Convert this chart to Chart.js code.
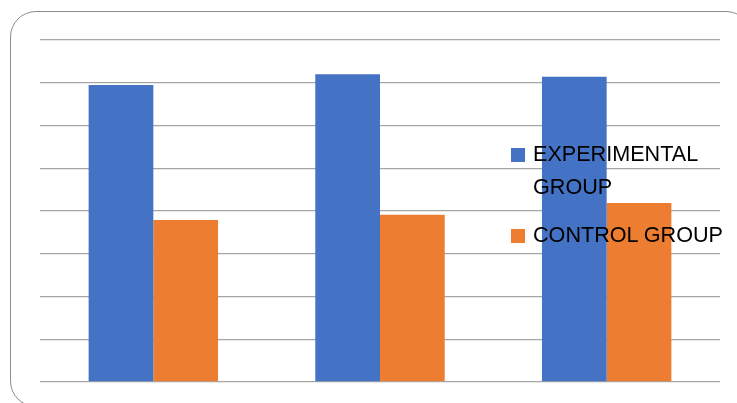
<!DOCTYPE html>
<html>
<head>
<meta charset="utf-8">
<script src="https://cdn.jsdelivr.net/npm/chart.js@4/dist/chart.umd.min.js"></script>
<style>
  html, body { margin: 0; padding: 0; background: #fff; }
  #wrap { position: relative; width: 737px; height: 403px; overflow: hidden; }
  #frame { position: absolute; left: 10px; top: 11px; width: 742px; height: 396px;
           border: 1.3px solid #8c8c8c; border-radius: 26px; box-sizing: border-box; }
  canvas { position: absolute; left: 0; top: 0; }
  .leg { position: absolute; left: 511px; width: 220px; font-family: "Liberation Sans", Arial, sans-serif;
         font-size: 21.6px; line-height: 32.5px; color: #000; }
  .leg .sw { position: absolute; left: 0; width: 14px; height: 14px; }
  .leg .tx { position: absolute; left: 22px; width: 205px; }
</style>
</head>
<body>
<div id="wrap">
  <div id="frame"></div>
  <canvas id="c" width="737" height="403"></canvas>
</div>
<script>
const categories = ['1', '2', '3'];
const seriesNames = ['EXPERIMENTAL GROUP', 'CONTROL GROUP'];
const experimental = [69.5, 72.0, 71.4];
const control = [37.9, 39.1, 41.9];
const colors = ['#4472C4', '#ED7D31'];
const yMin = 0, yMax = 80, yStep = 10;

const ctx = document.getElementById('c').getContext('2d');
new Chart(ctx, {
  type: 'bar',
  data: {
    labels: categories,
    datasets: [
      { label: seriesNames[0], data: experimental, backgroundColor: colors[0] },
      { label: seriesNames[1], data: control, backgroundColor: colors[1] }
    ]
  },
  options: {
    responsive: false,
    animation: false,
    layout: { padding: { left: 40, right: 17, top: 40, bottom: 21 } },
    datasets: { bar: { categoryPercentage: 0.571, barPercentage: 1.0 } },
    plugins: { legend: { display: false }, tooltip: { enabled: false } },
    scales: {
      x: { display: false },
      y: {
        min: yMin, max: yMax,
        ticks: { display: false, stepSize: yStep },
        grid: { color: '#a6a6a6', lineWidth: 1.3, drawTicks: false },
        border: { display: false }
      }
    }
  }
});

// HTML legend built from the series arrays
const legendTops = [138, 219];
const swatchTops = [10, 10];
seriesNames.forEach((name, i) => {
  const d = document.createElement('div');
  d.className = 'leg';
  d.style.top = legendTops[i] + 'px';
  const sw = document.createElement('div');
  sw.className = 'sw';
  sw.style.background = colors[i];
  sw.style.top = swatchTops[i] + 'px';
  const tx = document.createElement('div');
  tx.className = 'tx';
  tx.textContent = name;
  d.appendChild(sw);
  d.appendChild(tx);
  document.getElementById('wrap').appendChild(d);
});
</script>
</body>
</html>
